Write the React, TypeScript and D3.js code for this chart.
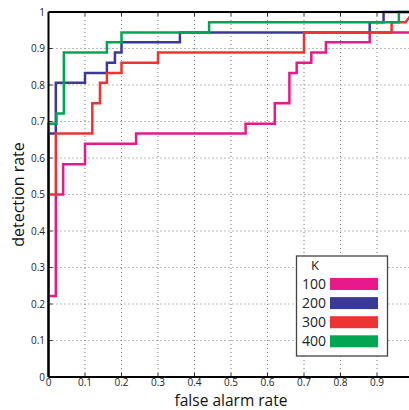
import React from "react";
import * as d3 from "d3";

// ROC curves, one per K
const K_LABELS = ["100", "200", "300", "400"];
const COLORS = ["#e8198b", "#3a3a96", "#ee3333", "#00a651"];

const FA_100 = [0, 0, 0.02, 0.04, 0.1, 0.24, 0.54, 0.62, 0.66, 0.68, 0.72, 0.76, 0.88, 1];
const DET_100 = [0, 0.222, 0.5, 0.583, 0.639, 0.667, 0.694, 0.75, 0.833, 0.861, 0.889, 0.917, 0.944, 0.944];

const FA_200 = [0, 0, 0.02, 0.1, 0.16, 0.182, 0.2, 0.36, 0.88, 0.918, 1];
const DET_200 = [0, 0.667, 0.806, 0.833, 0.861, 0.889, 0.917, 0.944, 0.972, 1, 1];

const FA_300 = [0, 0, 0.02, 0.12, 0.141, 0.16, 0.2, 0.3, 0.7, 0.94, 0.978];
const DET_300 = [0, 0.5, 0.667, 0.75, 0.806, 0.833, 0.861, 0.889, 0.944, 0.972, 0.972];
// last bit of K=300 is a straight segment, not a step
const TAIL_300 = [1, 1];

const FA_400 = [0, 0, 0.022, 0.042, 0.16, 0.2, 0.44, 0.96, 1];
const DET_400 = [0, 0.694, 0.722, 0.889, 0.917, 0.944, 0.972, 1, 1];

const TICKS = [0, 0.1, 0.2, 0.3, 0.4, 0.5, 0.6, 0.7, 0.8, 0.9, 1];

const W = 409;
const H = 410;
const FONT = "'Open Sans', 'DejaVu Sans', sans-serif";

// turn roc points into step vertices (rise happens at each fa)
function stepPoints(fa: number[], det: number[]): [number, number][] {
  let pts: [number, number][] = [[fa[0], det[0]]];
  for (let i = 1; i < fa.length; i++) {
    pts.push([fa[i], det[i - 1]]);
    pts.push([fa[i], det[i]]);
  }
  return pts;
}

export default function App() {
  const x = d3.scaleLinear().domain([0, 1]).range([48.5, 413.5]);
  const y = d3.scaleLinear().domain([0, 1]).range([377, 12]);

  const line = d3
    .line<[number, number]>()
    .x((d) => x(d[0]))
    .y((d) => y(d[1]));

  const series = [
    stepPoints(FA_100, DET_100),
    stepPoints(FA_200, DET_200),
    [...stepPoints(FA_300, DET_300), TAIL_300 as [number, number]],
    stepPoints(FA_400, DET_400),
  ];

  const inner = TICKS.slice(1, -1);

  return (
    <svg
      width={W}
      height={H}
      style={{ position: "absolute", left: 0, top: 0, background: "white" }}
      fontFamily={FONT}
    >
      {/* dotted grid */}
      <g stroke="#777" strokeWidth={1} strokeDasharray="1,3">
        {inner.map((t) => (
          <line key={"gx" + t} x1={x(t)} x2={x(t)} y1={y(0)} y2={y(1)} />
        ))}
        {inner.map((t) => (
          <line key={"gy" + t} x1={x(0)} x2={W} y1={y(t)} y2={y(t)} />
        ))}
      </g>

      {/* ticks inward on all sides */}
      <g stroke="#333" strokeWidth={1}>
        {inner.map((t) => (
          <g key={"t" + t}>
            <line x1={x(t)} x2={x(t)} y1={y(1)} y2={y(1) + 4} />
            <line x1={x(t)} x2={x(t)} y1={y(0)} y2={y(0) - 4} />
            <line x1={x(0)} x2={x(0) + 4} y1={y(t)} y2={y(t)} />
          </g>
        ))}
      </g>

      {/* curves */}
      {series.map((s, i) => (
        <path
          key={K_LABELS[i]}
          d={line(s) || ""}
          fill="none"
          stroke={COLORS[i]}
          strokeWidth={2.5}
          strokeLinejoin="miter"
        />
      ))}

      {/* axes frame */}
      <g stroke="#000" strokeWidth={2}>
        <line x1={x(0)} x2={W} y1={y(1)} y2={y(1)} />
        <line x1={x(0)} x2={W} y1={y(0)} y2={y(0)} />
      </g>
      <line x1={x(0)} x2={x(0)} y1={y(0)} y2={y(1)} stroke="#000" strokeWidth={2} />
      {/* green curve sits over the left axis */}
      <path d={line(stepPoints(FA_400, DET_400).slice(0, 2)) || ""} stroke={COLORS[3]} strokeWidth={2.5} fill="none" />

      {/* tick labels */}
      <g fontSize={10} fill="#222">
        {TICKS.map((t) => (
          <text key={"yl" + t} x={45} y={y(t)} dy="0.35em" textAnchor="end">
            {String(t)}
          </text>
        ))}
        {TICKS.slice(0, -1).map((t) => (
          <text key={"xl" + t} x={x(t)} y={386} textAnchor="middle">
            {String(t)}
          </text>
        ))}
      </g>

      {/* axis titles */}
      <text x={(x(0) + x(1)) / 2} y={405.7} fontSize={15.5} textAnchor="middle" fill="#111">
        false alarm rate
      </text>
      <text
        transform={`translate(24, ${(y(0) + y(1)) / 2}) rotate(-90)`}
        fontSize={16}
        textAnchor="middle"
        fill="#111"
      >
        detection rate
      </text>

      {/* legend */}
      <g>
        <rect x={296.5} y={256} width={91} height={100} fill="white" stroke="#444" strokeWidth={1.3} />
        <text x={315} y={265.5} dy="0.35em" fontSize={13} textAnchor="middle" fill="#222">
          K
        </text>
        {K_LABELS.map((k, i) => (
          <g key={"lg" + k} transform={`translate(0, ${284 + i * 19.1})`}>
            <text x={326} y={0} dy="0.35em" fontSize={14} textAnchor="end" fill="#222">
              {k}
            </text>
            <rect x={330} y={-6} width={48} height={12} fill={COLORS[i]} />
          </g>
        ))}
      </g>
    </svg>
  );
}
